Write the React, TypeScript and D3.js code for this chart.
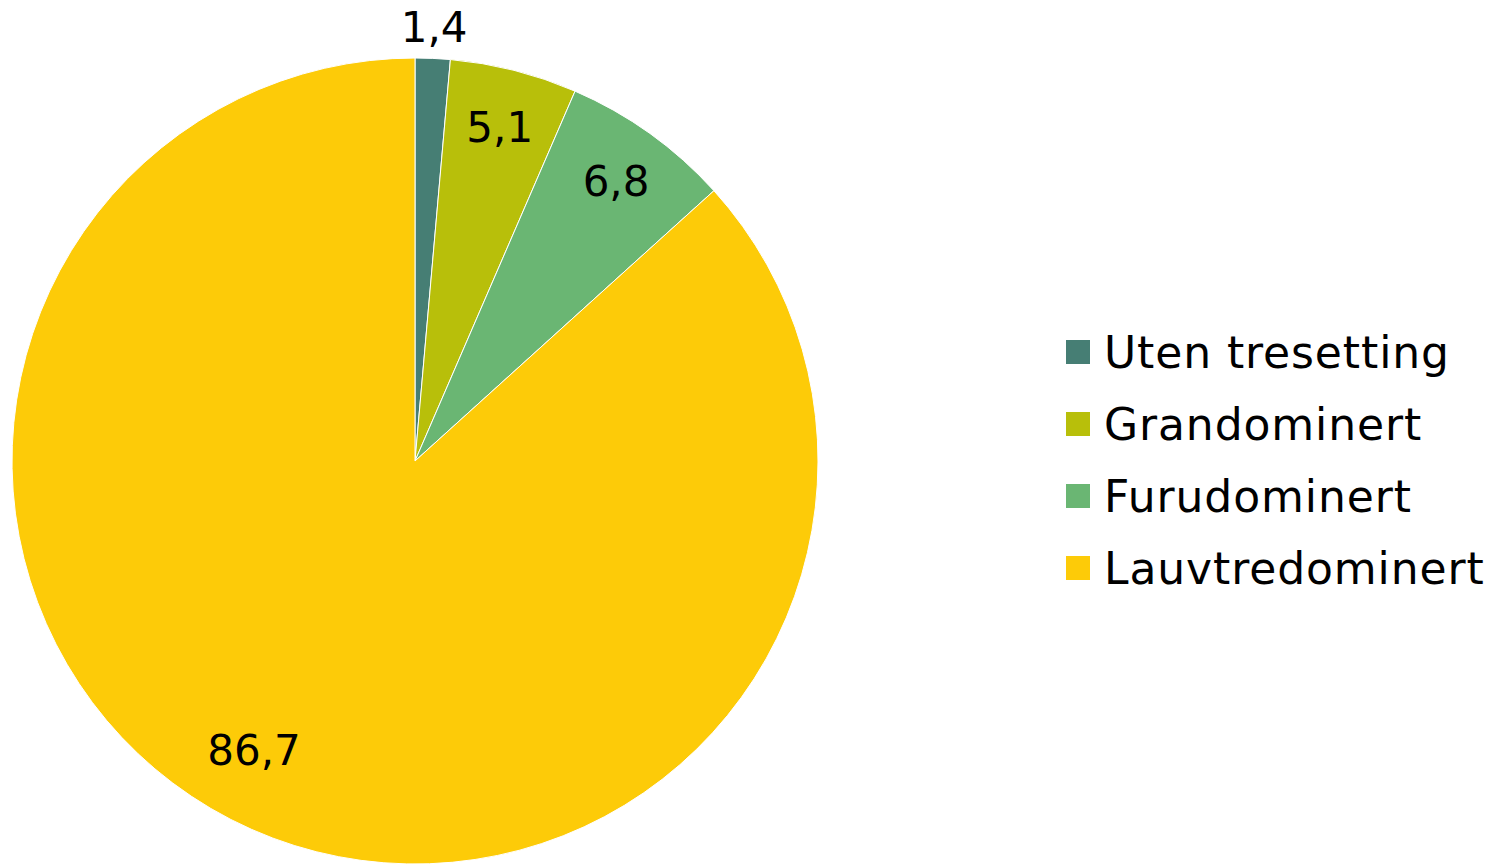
import React from 'react';
import * as d3 from 'd3';

// andel av arealet (%), lest av figuren
const categories = ['Uten tresetting', 'Grandominert', 'Furudominert', 'Lauvtredominert'];
const values = [1.4, 5.1, 6.8, 86.7];
const colors = ['#467E74', '#B8BF0A', '#6AB673', '#FDCB08'];

const fmt = (v: number) => v.toFixed(1).replace('.', ',');

export default function App() {
  const width = 1504;
  const height = 864;
  const cx = 415;
  const cy = 461;
  const radius = 403;

  const pie = d3.pie<number>().sort(null).value(d => d);
  const arcs = pie(values);

  const arc = d3.arc<d3.PieArcDatum<number>>().innerRadius(0).outerRadius(radius);

  // label positions: small slice outside, others inside near the rim
  const labelPos = (a: d3.PieArcDatum<number>) => {
    let mid = (a.startAngle + a.endAngle) / 2;
    const span = a.endAngle - a.startAngle;
    let r = 345;
    if (span < 0.15) r = 435;
    else if (span > Math.PI) {
      r = 331;
      mid += 0.09;
    }
    return [Math.sin(mid) * r, -Math.cos(mid) * r];
  };

  const font = '"DejaVu Sans", sans-serif';

  return (
    <svg width={width} height={height} style={{ position: 'absolute', left: 0, top: 0 }}>
      <rect width={width} height={height} fill="#fff" />
      <g transform={`translate(${cx},${cy})`}>
        {arcs.map((a, i) => (
          <path key={i} d={arc(a) || ''} fill={colors[i]} stroke="#fff" strokeWidth={1} />
        ))}
        {arcs.map((a, i) => {
          const [x, y] = labelPos(a);
          return (
            <text
              key={'l' + i}
              x={x}
              y={y}
              dy="0.36em"
              textAnchor="middle"
              fontFamily={font}
              fontSize={42}
              fill="#000"
            >
              {fmt(values[i])}
            </text>
          );
        })}
      </g>
      <g transform="translate(1066,352)">
        {categories.map((c, i) => (
          <g key={c} transform={`translate(0,${i * 72})`}>
            <rect x={0} y={-12} width={24} height={24} fill={colors[i]} />
            <text x={38} y={0} dy="0.36em" fontFamily={font} fontSize={44} letterSpacing={0.9} fill="#000">
              {c}
            </text>
          </g>
        ))}
      </g>
    </svg>
  );
}
